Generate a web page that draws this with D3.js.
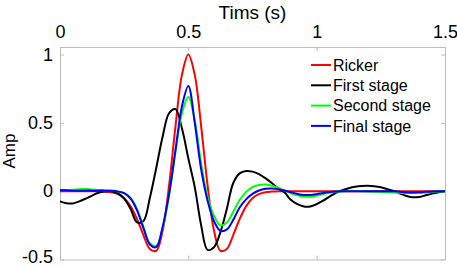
<!DOCTYPE html>
<html>
  <head>
    <title>Wavelets</title>
    <script src="https://d3js.org/d3.v7.min.js"></script>
    <style>
      body { margin: 0; background: #fff; }
      text { font-family: "Liberation Sans", Arial, sans-serif; }
    </style>
  </head>
  <body>
      <script>
        // time samples (s), every 0.025 s
        let times = d3.range(61).map(i => +(i * 0.025).toFixed(3))

        let ricker = [0, 0, 0, 0, 0, 0, 0, -0.003, -0.008, -0.022,
                      -0.052, -0.111, -0.204, -0.321, -0.423, -0.436, -0.288, 0.042, 0.475, 0.851,
                      1.0, 0.851, 0.475, 0.042, -0.288, -0.436, -0.423, -0.321, -0.204, -0.111,
                      -0.052, -0.022, -0.008, -0.003, 0, 0, 0, 0, 0, 0,
                      0, 0, 0, 0, 0, 0, 0, 0, 0, 0,
                      0, 0, 0, 0, 0, 0, 0, 0, 0, 0, 0]
        let firstStage = [-0.075, -0.088, -0.09, -0.075, -0.055, -0.032, -0.012, -0.003, 0.0, -0.015,
                          -0.055, -0.13, -0.228, -0.218, -0.05, 0.17, 0.4, 0.57, 0.6, 0.46,
                          0.24, 0.03, -0.25, -0.43, -0.41, -0.3, -0.13, 0.06, 0.13, 0.148,
                          0.143, 0.125, 0.095, 0.06, 0.02, -0.01, -0.065, -0.095, -0.112, -0.112,
                          -0.095, -0.07, -0.04, -0.012, 0.008, 0.022, 0.032, 0.038, 0.04, 0.036,
                          0.028, 0.015, 0.002, -0.018, -0.035, -0.045, -0.042, -0.03, -0.018, -0.008, 0.0]
        let secondStage = [0.008, 0.008, 0.01, 0.014, 0.015, 0.012, 0.008, 0.005, 0.004, -0.002,
                           -0.015, -0.05, -0.13, -0.26, -0.38, -0.4, -0.27, -0.03, 0.29, 0.57,
                           0.69, 0.52, 0.2, -0.04, -0.18, -0.25, -0.23, -0.15, -0.065, -0.005,
                           0.03, 0.045, 0.048, 0.04, 0.025, 0.005, -0.015, -0.03, -0.04, -0.04,
                           -0.033, -0.022, -0.012, -0.004, 0.0, 0.002, 0.002, 0.0, -0.002, -0.004,
                           -0.006, -0.008, -0.01, -0.012, -0.014, -0.014, -0.012, -0.009, -0.006, -0.003, 0]
        let finalStage = [0.008, 0.006, 0.004, 0.003, 0.004, 0.004, 0.004, 0.004, 0.003, -0.002,
                          -0.015, -0.055, -0.14, -0.27, -0.39, -0.41, -0.26, -0.02, 0.3, 0.62,
                          0.77, 0.5, 0.16, -0.07, -0.22, -0.29, -0.28, -0.21, -0.12, -0.06,
                          -0.02, 0.005, 0.018, 0.02, 0.015, 0.005, -0.008, -0.02, -0.028, -0.028,
                          -0.022, -0.014, -0.007, -0.002, 0, 0, 0, 0, 0, 0,
                          0, 0, 0, -0.004, -0.008, -0.01, -0.008, -0.005, -0.002, 0, 0]

        let seriesNames = ['Ricker', 'First stage', 'Second stage', 'Final stage']
        let colors = ['#ff0000', '#000000', '#00ff00', '#0000ff']
        let xTicks = [0, 0.5, 1, 1.5]
        let yTicks = [-0.5, 0, 0.5, 1]

        let width = 457, height = 268
        let plotLeft = 60, plotRight = 445, plotTop = 47, plotBottom = 259.5

        let svg = d3.select('body').append('svg')
                     .attr('width', width)
                     .attr('height', height)

        let xScale = d3.scaleLinear().domain([0, 1.5]).range([plotLeft, plotRight])
        let yScale = d3.scaleLinear().domain([-0.5, 1.055]).range([plotBottom, plotTop])

        let boxColor = '#bdbdbd'

        // top axis with labels, others just inward ticks
        svg.append('g').attr('transform', `translate(0, ${plotTop})`)
            .call(d3.axisTop(xScale).tickValues(xTicks).tickFormat(d => d)
                  .tickSizeInner(-4).tickSizeOuter(0).tickPadding(9))
        svg.append('g').attr('transform', `translate(0, ${plotBottom})`)
            .call(d3.axisBottom(xScale).tickValues(xTicks).tickFormat('')
                  .tickSizeInner(-4).tickSizeOuter(0))
        let yAxisG = svg.append('g').attr('transform', `translate(${plotLeft}, 0)`)
            .call(d3.axisLeft(yScale).tickValues(yTicks).tickFormat(d => d)
                  .tickSizeInner(-4).tickSizeOuter(0).tickPadding(7))
        svg.append('g').attr('transform', `translate(${plotRight}, 0)`)
            .call(d3.axisRight(yScale).tickValues(yTicks).tickFormat('')
                  .tickSizeInner(-4).tickSizeOuter(0))

        svg.selectAll('.domain, .tick line').attr('stroke', boxColor)
        svg.selectAll('.tick text').attr('font-size', 18).attr('fill', '#000')
           .style('font-family', '"Liberation Sans", Arial, sans-serif')
        // lowest label sits on the page edge, nudge it up a little
        yAxisG.selectAll('.tick text').filter(d => d === -0.5).attr('dy', '0.15em')

        svg.append('text').attr('x', (plotLeft + plotRight) / 2).attr('y', 19)
           .attr('text-anchor', 'middle').attr('font-size', 19).text('Tims (s)')
        svg.append('text').attr('transform', 'translate(15, 151) rotate(-90)')
           .attr('text-anchor', 'middle').attr('font-size', 17).text('Amp')

        let allSeries = [ricker, firstStage, secondStage, finalStage]

        let line = d3.line()
                     .x((d, i) => xScale(times[i]))
                     .y(d => yScale(d))
                     .curve(d3.curveCatmullRom.alpha(0.5))

        // draw order: ricker, first, second, final on top
        svg.selectAll('path.wave').data(allSeries)
           .enter().append('path')
           .attr('class', 'wave')
           .attr('d', d => line(d))
           .attr('fill', 'none')
           .attr('stroke', (d, i) => colors[i])
           .attr('stroke-width', 2)

        // legend
        let legend = svg.append('g')
        let rows = legend.selectAll('g').data(seriesNames).enter().append('g')
                         .attr('transform', (d, i) => `translate(311, ${65 + i * 20.3})`)
        rows.append('line').attr('x1', 0).attr('x2', 20).attr('y1', 0).attr('y2', 0)
            .attr('stroke', (d, i) => colors[i]).attr('stroke-width', 2)
        rows.append('text').attr('x', 22).attr('y', 0).attr('dy', '0.35em')
            .attr('font-size', 16).text(d => d)
      </script>
  </body>
</html>
